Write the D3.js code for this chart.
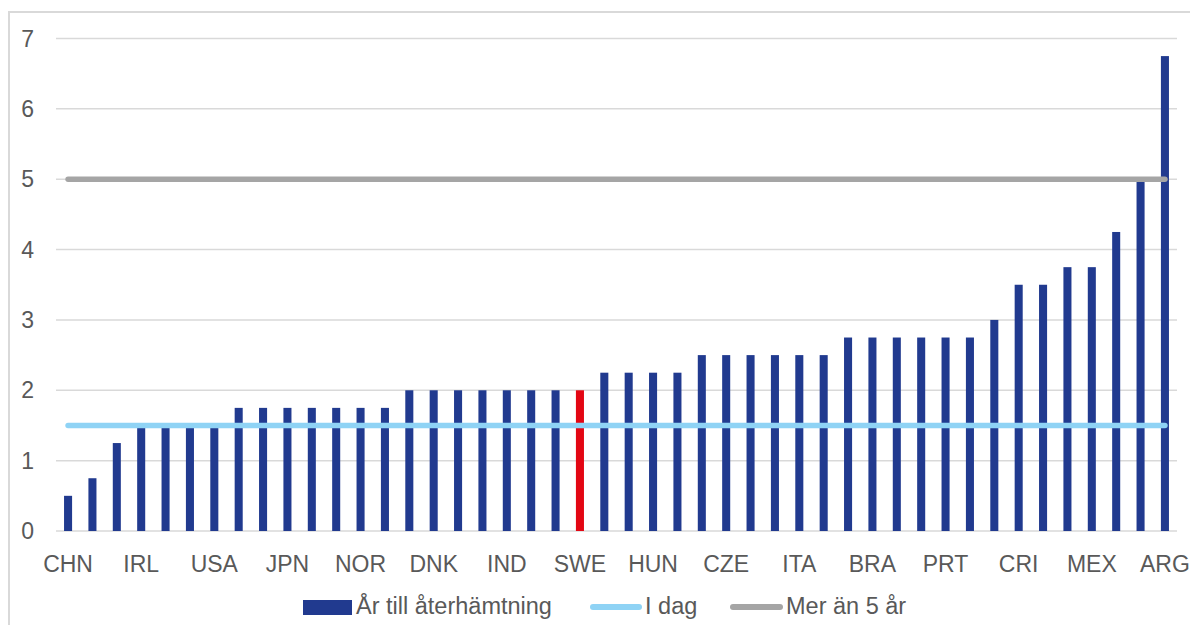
<!DOCTYPE html>
<html>
<head>
  <meta charset="utf-8">
  <script src="https://d3js.org/d3.v7.min.js"></script>
  <style>
    body { margin: 0; background: #fff; }
    svg { display: block; font-family: "Liberation Sans", Arial, sans-serif; }
  </style>
</head>
<body>
  <svg id="chart"></svg>
  <script>
    // countries (only every third one is labelled in the original)
    let countries = ["CHN","","","IRL","","","USA","","","JPN","","","NOR","","","DNK","","","IND","","","SWE",
                     "","","HUN","","","CZE","","","ITA","","","BRA","","","PRT","","","CRI","","","MEX","","","ARG"];
    // years until recovery
    let years = [0.5, 0.75, 1.25, 1.5, 1.5, 1.5, 1.5,
                 1.75, 1.75, 1.75, 1.75, 1.75, 1.75, 1.75,
                 2, 2, 2, 2, 2, 2, 2, 2,
                 2.25, 2.25, 2.25, 2.25,
                 2.5, 2.5, 2.5, 2.5, 2.5, 2.5,
                 2.75, 2.75, 2.75, 2.75, 2.75, 2.75,
                 3, 3.5, 3.5, 3.75, 3.75, 4.25, 5, 6.75];
    let highlight = 21; // SWE
    let iDag = 1.5;
    let merAn5 = 5;
    let yTicks = [0, 1, 2, 3, 4, 5, 6, 7];

    let width = 1190, height = 625;
    let svg = d3.select("#chart").attr("width", width).attr("height", height);

    // outer frame
    svg.append("rect")
      .attr("x", 9).attr("y", 12)
      .attr("width", width + 20).attr("height", height + 20)
      .attr("fill", "none").attr("stroke", "#d9d9d9").attr("stroke-width", 2);

    let plotLeft = 56, plotRight = 1177, plotTop = 38.5, plotBottom = 531;

    let x = d3.scaleBand()
      .domain(d3.range(years.length))
      .range([plotLeft, plotRight])
      .paddingInner(0.67)
      .paddingOuter(0.33);

    let y = d3.scaleLinear().domain([0, 7]).range([plotBottom, plotTop]);

    // gridlines
    svg.append("g").selectAll("line")
      .data(yTicks)
      .enter().append("line")
      .attr("x1", plotLeft).attr("x2", plotRight)
      .attr("y1", d => y(d)).attr("y2", d => y(d))
      .attr("stroke", "#d9d9d9").attr("stroke-width", 1.5);

    // y tick labels
    svg.append("g").selectAll("text")
      .data(yTicks)
      .enter().append("text")
      .attr("x", 34).attr("y", d => y(d) + 8)
      .attr("text-anchor", "end")
      .attr("font-size", 23).attr("fill", "#595959")
      .text(d => d);

    // bars
    svg.append("g").selectAll("rect")
      .data(years)
      .enter().append("rect")
      .attr("x", (d, i) => x(i))
      .attr("width", x.bandwidth())
      .attr("y", d => y(d))
      .attr("height", d => y(0) - y(d))
      .attr("fill", (d, i) => i == highlight ? "#e30613" : "#213a8f");

    // x labels
    svg.append("g").selectAll("text")
      .data(countries)
      .enter().append("text")
      .attr("x", (d, i) => x(i) + x.bandwidth() / 2)
      .attr("y", 572)
      .attr("text-anchor", "middle")
      .attr("font-size", 23).attr("fill", "#595959")
      .text(d => d);

    // reference lines
    let x0 = x(0) + x.bandwidth() / 2, x1 = x(years.length - 1) + x.bandwidth() / 2;
    let refs = [
      { v: iDag, color: "#8fd3f5" },
      { v: merAn5, color: "#a5a5a5" }
    ];
    svg.append("g").selectAll("line")
      .data(refs)
      .enter().append("line")
      .attr("x1", x0).attr("x2", x1)
      .attr("y1", d => y(d.v)).attr("y2", d => y(d.v))
      .attr("stroke", d => d.color)
      .attr("stroke-width", 5.5)
      .attr("stroke-linecap", "round");

    // legend
    let legend = svg.append("g").attr("font-size", 23.5).attr("fill", "#595959");
    legend.append("rect").attr("x", 303).attr("y", 600).attr("width", 49).attr("height", 15).attr("fill", "#213a8f");
    legend.append("text").attr("x", 356).attr("y", 614).text("År till återhämtning");
    legend.append("line").attr("x1", 593).attr("x2", 639).attr("y1", 607).attr("y2", 607)
      .attr("stroke", "#8fd3f5").attr("stroke-width", 6).attr("stroke-linecap", "round");
    legend.append("text").attr("x", 645).attr("y", 614).text("I dag");
    legend.append("line").attr("x1", 733).attr("x2", 780).attr("y1", 607).attr("y2", 607)
      .attr("stroke", "#a5a5a5").attr("stroke-width", 6).attr("stroke-linecap", "round");
    legend.append("text").attr("x", 786).attr("y", 614).text("Mer än 5 år");
  </script>
</body>
</html>
